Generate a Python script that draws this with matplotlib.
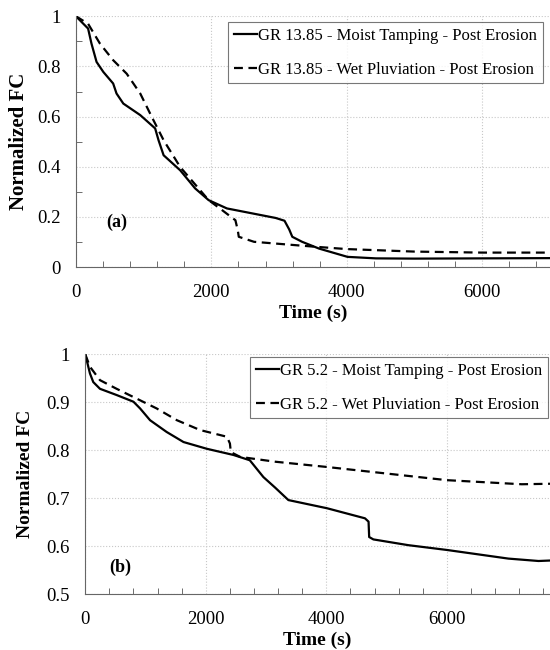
import numpy as np
import matplotlib.pyplot as plt
from matplotlib.ticker import MultipleLocator

plt.rcParams['font.family'] = ['Liberation Serif', 'DejaVu Serif']

# (a) GR 13.85
a_mt_t = [0, 180, 230, 305, 405, 550, 600, 700, 950, 1170, 1220, 1295, 1540, 1760, 1960,
          2230, 2950, 3080, 3150, 3195, 3340, 3590, 4010, 4430, 5000, 6000, 7000]
a_mt_fc = [1.0, 0.951, 0.891, 0.818, 0.778, 0.732, 0.692, 0.652, 0.606, 0.553, 0.506, 0.446,
           0.386, 0.314, 0.267, 0.234, 0.196, 0.185, 0.15, 0.121, 0.101, 0.074, 0.041, 0.035,
           0.034, 0.035, 0.036]
a_wp_t = [0, 180, 355, 550, 750, 950, 1120, 1295, 1540, 1960, 2160, 2355, 2390, 2405,
          2630, 2950, 3500, 4000, 5000, 6000, 7000]
a_wp_fc = [1.0, 0.97, 0.891, 0.825, 0.771, 0.692, 0.599, 0.506, 0.399, 0.267, 0.227, 0.187,
           0.147, 0.121, 0.101, 0.094, 0.082, 0.072, 0.062, 0.058, 0.058]

# (b) GR 5.2
b_mt_t = [0, 78, 133, 244, 520, 800, 910, 1075, 1350, 1630, 2015, 2460, 2730, 2955, 3150,
          3370, 4010, 4640, 4700, 4710, 4780, 5360, 6000, 7020, 7520, 7710]
b_mt_fc = [1.0, 0.96, 0.942, 0.928, 0.915, 0.901, 0.887, 0.8625, 0.838, 0.817, 0.803, 0.79,
           0.779, 0.744, 0.722, 0.696, 0.679, 0.658, 0.651, 0.619, 0.614, 0.602, 0.592,
           0.574, 0.569, 0.570]
b_wp_t = [0, 78, 244, 520, 910, 1185, 1520, 1905, 2350, 2400, 2415, 2570, 3150, 4010,
          6000, 7240, 7710]
b_wp_fc = [1.0, 0.974, 0.946, 0.928, 0.904, 0.887, 0.8625, 0.842, 0.828, 0.814, 0.796,
           0.786, 0.776, 0.765, 0.7375, 0.729, 0.73]

fig = plt.figure(figsize=(5.5, 6.5), dpi=100)
ax1 = fig.add_axes([0.138, 0.589, 0.862, 0.386])
ax2 = fig.add_axes([0.155, 0.086, 0.845, 0.369])

def style(ax, xmax, ymin, ymaj, yminor, ylab_x, ylab_size):
    ax.set_xlim(0, xmax)
    ax.set_ylim(ymin, 1)
    ax.xaxis.set_major_locator(MultipleLocator(2000))
    ax.xaxis.set_minor_locator(MultipleLocator(400))
    ax.yaxis.set_major_locator(MultipleLocator(ymaj))
    if yminor:
        ax.yaxis.set_minor_locator(MultipleLocator(yminor))
    ax.grid(True, which='major', color='#c8c8c8', linestyle=':', linewidth=0.8)
    ax.tick_params(which='both', direction='in', labelsize=13.5, color='#555555')
    ax.tick_params(which='major', length=0)
    ax.tick_params(which='minor', length=4)
    ax.tick_params(axis='x', which='major', pad=12)
    ax.tick_params(axis='y', which='major', pad=11)
    for s in ['top', 'right']:
        ax.spines[s].set_visible(False)
    for s in ['left', 'bottom']:
        ax.spines[s].set_color('#666666')
    ax.set_xlabel('Time (s)', fontsize=14, fontweight='bold', labelpad=3)
    ax.set_ylabel('Normalized FC', fontsize=ylab_size, fontweight='bold')
    ax.yaxis.set_label_coords(ylab_x, 0.5)
    ax.yaxis.set_major_formatter(plt.FuncFormatter(lambda v, p: f'{v:g}'))

leg_kw = dict(loc='upper right', fontsize=12, handlelength=1.4, handletextpad=0.05,
              fancybox=False, edgecolor='#555555', borderpad=0.35, labelspacing=1.05,
              borderaxespad=0)

ax1.plot(a_mt_t, a_mt_fc, color='black', lw=1.6, label='GR 13.85 - Moist Tamping - Post Erosion')
ax1.plot(a_wp_t, a_wp_fc, color='black', lw=1.6, ls=(0, (4, 2.5)), label='GR 13.85 - Wet Pluviation - Post Erosion')
style(ax1, 7000, 0, 0.2, 0.1, -0.099, 15)
ax1.text(600, 0.18, '(a)', fontsize=13, fontweight='bold', ha='center', va='center')
leg1 = ax1.legend(bbox_to_anchor=(0.985, 0.976), **leg_kw)
leg1.get_frame().set_linewidth(0.8)

ax2.plot(b_mt_t, b_mt_fc, color='black', lw=1.6, label='GR 5.2 - Moist Tamping - Post Erosion')
ax2.plot(b_wp_t, b_wp_fc, color='black', lw=1.6, ls=(0, (4, 2.5)), label='GR 5.2 - Wet Pluviation - Post Erosion')
style(ax2, 7710, 0.5, 0.1, None, -0.11, 14)
ax2.text(580, 0.555, '(b)', fontsize=13, fontweight='bold', ha='center', va='center')
leg2 = ax2.legend(bbox_to_anchor=(0.996, 0.9875), **leg_kw)
leg2.get_frame().set_linewidth(0.8)

fig.savefig('out.png', dpi=100)
